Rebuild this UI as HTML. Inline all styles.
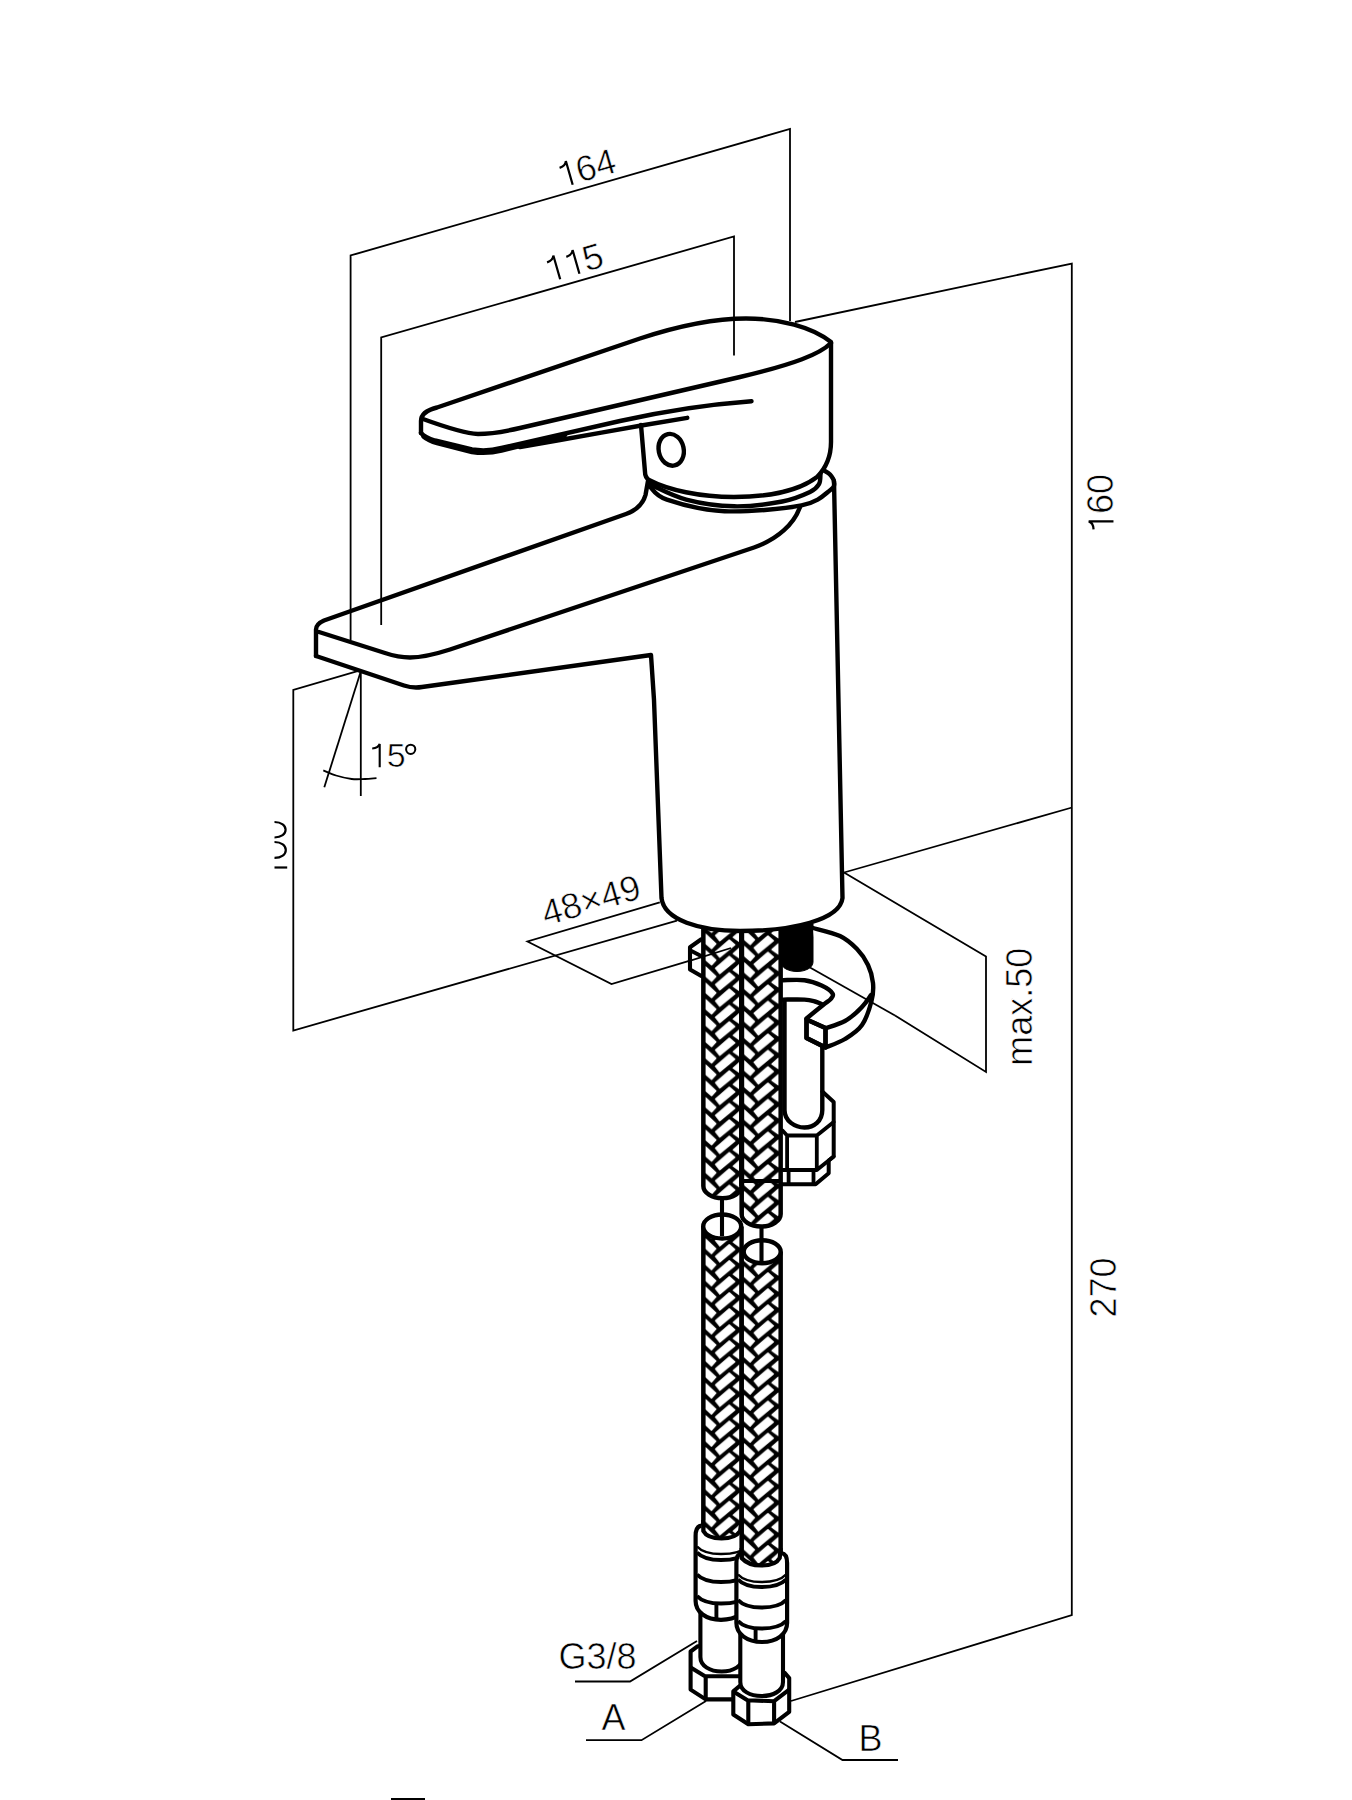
<!DOCTYPE html>
<html><head><meta charset="utf-8"><style>
html,body{margin:0;padding:0;background:#fff;width:1352px;height:1800px;overflow:hidden}
svg{display:block}
text{font-family:"Liberation Sans",sans-serif;fill:#000}
</style></head><body>
<svg width="1352" height="1800" viewBox="0 0 1352 1800">
<defs>
<pattern id="pL" patternUnits="userSpaceOnUse" x="705.2" y="934.30" width="40" height="16.050"><rect x="-1" y="-1" width="42" height="18.05" fill="#000"/><g fill="#fff" stroke="#fff" stroke-width="1.5" stroke-linejoin="round"><polygon points="0.4,-16.1 10.5,-6.6 6.4,-1.9 0.4,-7.2"/><polygon points="10.5,-14.9 24.1,-26.6 29.4,-22.0 14.6,-9.6"/><polygon points="28.3,-13.1 34.5,-18.7 34.5,-8.7"/><polygon points="0.4,0.0 10.5,9.5 6.4,14.2 0.4,8.9"/><polygon points="10.5,1.2 24.1,-10.6 29.4,-5.9 14.6,6.5"/><polygon points="28.3,3.0 34.5,-2.6 34.5,7.4"/><polygon points="0.4,16.1 10.5,25.6 6.4,30.2 0.4,25.0"/><polygon points="10.5,17.2 24.1,5.5 29.4,10.2 14.6,22.6"/><polygon points="28.3,19.1 34.5,13.5 34.5,23.5"/></g></pattern>
<pattern id="pR" patternUnits="userSpaceOnUse" x="743.8" y="930.40" width="40" height="16.050"><rect x="-1" y="-1" width="42" height="18.05" fill="#000"/><g fill="#fff" stroke="#fff" stroke-width="1.5" stroke-linejoin="round"><polygon points="0.4,-16.1 10.5,-6.6 6.4,-1.9 0.4,-7.2"/><polygon points="10.5,-14.9 24.1,-26.6 29.4,-22.0 14.6,-9.6"/><polygon points="28.3,-13.1 34.5,-18.7 34.5,-8.7"/><polygon points="0.4,0.0 10.5,9.5 6.4,14.2 0.4,8.9"/><polygon points="10.5,1.2 24.1,-10.6 29.4,-5.9 14.6,6.5"/><polygon points="28.3,3.0 34.5,-2.6 34.5,7.4"/><polygon points="0.4,16.1 10.5,25.6 6.4,30.2 0.4,25.0"/><polygon points="10.5,17.2 24.1,5.5 29.4,10.2 14.6,22.6"/><polygon points="28.3,19.1 34.5,13.5 34.5,23.5"/></g></pattern>
<pattern id="pUL" patternUnits="userSpaceOnUse" x="705.2" y="934.30" width="40" height="16.350"><rect x="-1" y="-1" width="42" height="18.35" fill="#000"/><g fill="#fff" stroke="#fff" stroke-width="1.5" stroke-linejoin="round"><polygon points="0.4,-16.4 10.5,-6.9 6.4,-2.2 0.4,-7.5"/><polygon points="10.5,-15.2 24.1,-27.0 29.4,-22.2 14.6,-9.9"/><polygon points="28.3,-13.4 34.5,-19.0 34.5,-9.0"/><polygon points="0.4,0.0 10.5,9.5 6.4,14.2 0.4,8.9"/><polygon points="10.5,1.2 24.1,-10.6 29.4,-5.9 14.6,6.5"/><polygon points="28.3,3.0 34.5,-2.6 34.5,7.4"/><polygon points="0.4,16.4 10.5,25.9 6.4,30.6 0.4,25.2"/><polygon points="10.5,17.6 24.1,5.8 29.4,10.5 14.6,22.9"/><polygon points="28.3,19.4 34.5,13.8 34.5,23.8"/></g></pattern>
<pattern id="pUR" patternUnits="userSpaceOnUse" x="743.8" y="930.25" width="40" height="16.350"><rect x="-1" y="-1" width="42" height="18.35" fill="#000"/><g fill="#fff" stroke="#fff" stroke-width="1.5" stroke-linejoin="round"><polygon points="0.4,-16.4 10.5,-6.9 6.4,-2.2 0.4,-7.5"/><polygon points="10.5,-15.2 24.1,-27.0 29.4,-22.2 14.6,-9.9"/><polygon points="28.3,-13.4 34.5,-19.0 34.5,-9.0"/><polygon points="0.4,0.0 10.5,9.5 6.4,14.2 0.4,8.9"/><polygon points="10.5,1.2 24.1,-10.6 29.4,-5.9 14.6,6.5"/><polygon points="28.3,3.0 34.5,-2.6 34.5,7.4"/><polygon points="0.4,16.4 10.5,25.9 6.4,30.6 0.4,25.2"/><polygon points="10.5,17.6 24.1,5.8 29.4,10.5 14.6,22.9"/><polygon points="28.3,19.4 34.5,13.8 34.5,23.8"/></g></pattern>
</defs>
<g fill="none" stroke="#000" stroke-width="1.8">
<polyline points="350.6,640.0 350.6,255.5 790.0,129.0 790.0,321.0"/>
<polyline points="381.2,625.0 381.2,337.5 734.0,236.5 734.0,355.5"/>
<polyline points="795.0,322.0 1071.8,263.5 1071.8,1615.0 791.0,1701.0"/>
<polyline points="844.0,872.5 1072.0,807.5"/>
<polyline points="844.0,872.5 986.0,956.5 986.0,1072.0 895.0,1015.5"/>
<polyline points="357.5,671.2 293.3,690.0 293.3,1030.5 677.0,920.7"/>
<polyline points="360.8,671.0 360.8,796.0"/>
<polyline points="360.8,671.2 324.3,787.3"/>
<polyline points="659.8,902.4 527.5,941.5 611.5,984.0 690.0,960.7"/>
<polyline points="575.0,1681.5 630.0,1681.5 697.0,1641.0"/>
<polyline points="586.0,1740.2 641.5,1740.2 706.0,1701.0"/>
<polyline points="780.0,1721.5 842.5,1760.0 898.0,1760.0"/>
<path d="M323.3,770.4 C325.4,771.2 331.3,774.1 336.0,775.5 C340.7,776.9 346.9,778.4 351.7,779.0 C356.5,779.6 360.9,779.1 365.0,779.0 C369.1,778.9 374.6,778.3 376.5,778.2"/>
</g>
<g font-size="36" stroke="#fff" stroke-width="0.6">
<g transform="translate(586.00,168.00) rotate(-16.00)"><text x="-30.03" y="12.47" font-size="36.0"> 64</text><path d="M-17.43,12.47 L-17.43,-12.29 C-18.51,-9.05 -21.75,-7.61 -25.35,-7.43" fill="none" stroke="#000" stroke-width="2.23" stroke-linejoin="miter"/></g>
<g transform="translate(573.50,262.50) rotate(-16.00)"><text x="-30.03" y="12.47" font-size="36.0">  5</text><path d="M-17.43,12.47 L-17.43,-12.29 C-18.51,-9.05 -21.75,-7.61 -25.35,-7.43" fill="none" stroke="#000" stroke-width="2.23" stroke-linejoin="miter"/><path d="M2.59,12.47 L2.59,-12.29 C1.51,-9.05 -1.73,-7.61 -5.33,-7.43" fill="none" stroke="#000" stroke-width="2.23" stroke-linejoin="miter"/></g>
<g transform="translate(1101.00,504.00) rotate(-90.00)"><text x="-30.03" y="12.47" font-size="36.0"> 60</text><path d="M-17.43,12.47 L-17.43,-12.29 C-18.51,-9.05 -21.75,-7.61 -25.35,-7.43" fill="none" stroke="#000" stroke-width="2.23" stroke-linejoin="miter"/></g>
<g transform="translate(1104.00,1287.50) rotate(-90.00)"><text x="-30.03" y="12.47" font-size="36.0">270</text></g>
<g transform="translate(1019.40,1006.70) rotate(-90.00)"><text x="-59.03" y="12.47" font-size="36.0">max.50</text></g>
<g transform="translate(591.00,900.00) rotate(-16.00)"><text x="-50.55" y="12.47" font-size="36.0">48×49</text></g>
<g transform="translate(367.80,767.30) rotate(0.00)"><text x="0.00" y="0.00" font-size="34.0"> 5</text><path d="M11.90,0.00 L11.90,-23.39 C10.88,-20.33 7.82,-18.97 4.42,-18.80" fill="none" stroke="#000" stroke-width="2.11" stroke-linejoin="miter"/></g>
<circle cx="410.7" cy="749.3" r="4.6" fill="none" stroke="#000" stroke-width="2"/>
<g transform="translate(558.50,1668.80) rotate(0.00)"><text x="0.00" y="0.00" font-size="36.0">G3/8</text></g>
<g transform="translate(601.50,1730.20) rotate(0.00)"><text x="0.00" y="0.00" font-size="36.0">A</text></g>
<g transform="translate(858.50,1751.00) rotate(0.00)"><text x="0.00" y="0.00" font-size="36.0">B</text></g>
</g>
<g fill="none" stroke="#000" stroke-width="2.2">
<path d="M274.5,867.5 L287.2,867.5"/>
<path d="M274.5,822 C281.5,822 285.6,825.5 285.6,829.8 C285.6,834 281.5,837.5 274.5,837.5"/>
<path d="M274.5,842 C281.5,842 285.8,845.5 285.8,849.9 C285.8,854.3 281.5,857.9 274.5,857.9"/>
</g>
<g stroke="#000" stroke-width="4.4" stroke-linejoin="round">
<path d="M703.3,1226.5 L703.3,1545 L741.6,1545 L741.6,1226.5 Z" fill="url(#pL)" stroke="none"/>
<path d="M703.3,1226.5 L703.3,1545 M741.6,1226.5 L741.6,1545" fill="none"/>
<ellipse cx="722.2" cy="1226.5" rx="19" ry="12" fill="#fff"/>
<line x1="722" y1="1199" x2="722" y2="1236" stroke-width="4.1"/>
<path d="M690.6,1689.6 L690.6,1651.5 L697.8,1646.2 L748,1646.2 L752,1690 L733,1699.4 L705.7,1699.4 Z" fill="#fff" stroke-width="4.1"/>
<path d="M690.7,1667.5 L705,1676.3 L745,1676.3 M705.7,1676.3 L705.7,1699.4" fill="none" stroke-width="4.1"/>
<path d="M700.4,1610 L700.4,1657 C700.4,1666 710,1671.5 721.7,1671.5 C733,1671.5 743,1666 743,1657 L743,1610 Z" fill="#fff" stroke-width="4.1"/>
<path d="M701.5,1525.6 C697.5,1526 695.6,1530 695.6,1536 L695.6,1601 C695.6,1612 706,1619.8 721,1619.8 C736,1619.8 748,1612 748,1601 L748,1536 C748,1530 746,1526 742,1525.6" fill="#fff" stroke-width="4.2"/>
<path d="M703.3,1520 L703.3,1531 C706,1536 713,1538.5 721.5,1538.5 C730,1538.5 737,1536 740.1,1531 L741.6,1520 Z" fill="url(#pL)" stroke="none"/>
<path d="M703.3,1520 L703.3,1531 C706,1536 713,1538.5 721.5,1538.5 C730,1538.5 737,1536 740.1,1531 L741.6,1520" fill="none" stroke-width="4.2"/>
<path d="M697,1546.5 C702,1552.0 712,1554.0 721,1554.0 C731,1554.0 742,1552.0 747,1546.5" fill="none" stroke-width="2.6"/>
<path d="M697,1552.5 C702,1558.0 712,1560.0 721,1560.0 C731,1560.0 742,1558.0 747,1552.5" fill="none" stroke-width="4.0"/>
<path d="M697,1574.5 C702,1580.0 712,1582.0 721,1582.0 C731,1582.0 742,1580.0 747,1574.5" fill="none" stroke-width="4.0"/>
<path d="M697,1596.0 C702,1601.5 712,1603.5 721,1603.5 C731,1603.5 742,1601.5 747,1596.0" fill="none" stroke-width="4.0"/>
<line x1="716.4" y1="1605" x2="716.4" y2="1618" stroke-width="3.9"/>
<path d="M741.6,1251.7 L741.6,1570 L780.7,1570 L780.7,1251.7 Z" fill="url(#pR)" stroke="none"/>
<path d="M741.6,1251.7 L741.6,1570 M780.7,1251.7 L780.7,1570" fill="none"/>
<ellipse cx="762.2" cy="1251.7" rx="18.5" ry="11.5" fill="#fff"/>
<line x1="761.5" y1="1226" x2="761.5" y2="1262" stroke-width="4.1"/>
<path d="M733.3,1714.5 L733.3,1691.4 L742,1684 L742,1672 L784.7,1672.8 L789.2,1678.1 L789.2,1711.8 L774.1,1723.4 L748.3,1724.3 Z" fill="#fff" stroke-width="4.1"/>
<path d="M733.3,1691.4 L747.5,1700.3 L774.1,1701.2 L789.2,1689.6 M748.3,1701 L748.3,1724.3 M774.1,1701 L774.1,1723" fill="none" stroke-width="4.1"/>
<path d="M740.3,1632 L740.3,1682 C740.3,1691 750,1696 761.6,1696 C773,1696 783,1691 783,1682 L783,1632 Z" fill="#fff" stroke-width="4.1"/>
<path d="M742,1553 C738.5,1553.5 736.4,1557 736.4,1563 L736.4,1623 C736.4,1634 747,1642 762,1642 C777,1642 787.1,1634 787.1,1623 L787.1,1563 C787.1,1557 785,1553.5 781.5,1553" fill="#fff" stroke-width="4.2"/>
<path d="M741.6,1548 L741.6,1558 C746,1563 753,1565.5 761.5,1565.5 C770,1565.5 777,1563 779.7,1558 L780.7,1548 Z" fill="url(#pR)" stroke="none"/>
<path d="M741.6,1548 L741.6,1558 C746,1563 753,1565.5 761.5,1565.5 C770,1565.5 777,1563 779.7,1558 L780.7,1548" fill="none" stroke-width="4.2"/>
<path d="M738,1574.5 C743,1580.0 752,1582.0 761.5,1582.0 C771,1582.0 781,1580.0 786,1574.5" fill="none" stroke-width="2.6"/>
<path d="M738,1579.5 C743,1585.0 752,1587.0 761.5,1587.0 C771,1587.0 781,1585.0 786,1579.5" fill="none" stroke-width="4.0"/>
<path d="M738,1600.0 C743,1605.5 752,1607.5 761.5,1607.5 C771,1607.5 781,1605.5 786,1600.0" fill="none" stroke-width="4.0"/>
<path d="M738,1621.0 C743,1626.5 752,1628.5 761.5,1628.5 C771,1628.5 781,1626.5 786,1621.0" fill="none" stroke-width="4.0"/>
<line x1="755.6" y1="1630" x2="755.6" y2="1642" stroke-width="3.9"/>
<path d="M703.3,922 L703.3,1186 A19,12 0 0 0 741.6,1186 L741.6,922 Z" fill="url(#pUL)" stroke="none"/>
<path d="M703.3,922 L703.3,1186 A19,12 0 0 0 741.6,1186 L741.6,922" fill="none"/>
<path d="M741.6,922 L741.6,1214 A19.5,12.5 0 0 0 780.7,1214 L780.7,922 Z" fill="url(#pUR)" stroke="none"/>
<path d="M741.6,922 L741.6,1214 A19.5,12.5 0 0 0 780.7,1214 L780.7,922" fill="none"/>
<line x1="743" y1="1181" x2="781" y2="1181" stroke-width="3.9"/>
<line x1="741.6" y1="922" x2="741.6" y2="1186" stroke-width="5.2"/>
</g>
<g fill="none" stroke="#000" stroke-width="4.4" stroke-linejoin="round" stroke-linecap="round">
<path d="M701.3,939.3 L690,947.2 L690,969.4 L701.3,976" stroke-width="4.1"/>
<path d="M691.5,951 L703,957" stroke-width="3.9"/>
<path d="M781,924 L781,962 C781,968 789,971.5 797,971.5 C805,971.5 813,968 813,962 L813,924 Z" fill="#000" stroke-width="1"/>
<path d="M813.0,928.0 C817.5,929.3 832.7,932.5 840.0,936.0 C847.3,939.5 852.3,944.2 857.0,949.0 C861.7,953.8 865.3,959.3 868.0,965.0 C870.7,970.7 872.4,977.0 873.0,983.0 C873.6,989.0 873.3,994.0 871.5,1001.0 C869.7,1008.0 866.4,1018.7 862.0,1025.0 C857.6,1031.3 851.1,1035.2 845.0,1039.0 C838.9,1042.8 828.8,1046.1 825.5,1047.5 L825.5,1028 L806.5,1019.5 L806.5,1038 L825.5,1047.5" fill="#fff"/>
<path d="M871.0,995.0 C870.2,996.1 868.7,998.8 866.5,1001.5 C864.3,1004.2 861.6,1007.8 858.0,1011.0 C854.4,1014.2 850.4,1018.1 845.0,1021.0 C839.6,1023.9 828.8,1027.1 825.5,1028.3"/>
<path d="M783.0,980.2 C786.6,980.2 798.1,979.3 804.5,980.2 C810.9,981.1 816.9,983.4 821.6,985.6 C826.3,987.8 831.0,991.2 832.5,993.4 C834.0,995.6 832.5,996.9 830.9,998.8 C829.3,1000.7 827.2,1001.7 823.1,1005.0 C819.0,1008.3 809.3,1016.2 806.5,1018.5"/>
<path d="M783.0,999.6 C786.6,999.6 799.2,999.3 804.5,999.6 C809.8,999.9 812.0,1000.7 815.0,1001.5 C818.0,1002.3 821.2,1004.0 822.5,1004.5"/>
<path d="M806.5,1019.5 L825.5,1028 L825.5,1047.5 L806.5,1038 Z"/>
<path d="M784.5,1001 L784.5,1110 C784.5,1121 795,1127.5 804.5,1127.5 C814,1127.5 822.3,1121 822.3,1110 L822.3,1046"/>
<path d="M822.3,1091.5 L833.7,1101.9 L833.7,1156.5 L828.7,1160.5 L828.7,1173.3 L815.6,1184.2 L782,1184.2" stroke-width="4"/>
<path d="M782.5,1130.4 L787.1,1135.5 L816.8,1135.5 L833.7,1122 M787.1,1135.5 L787.1,1170 M816.8,1135.5 L816.8,1170 M783,1170 L816.8,1170 L833.7,1156.5 M788.6,1170 L788.6,1184.2 M813.5,1170 L813.5,1184.2" stroke-width="3.8"/>
</g>
<g fill="none" stroke="#000" stroke-width="1.8"><polyline points="895,1015.5 810,967.5"/><polyline points="688,961.3 731,948"/></g>
<g fill="none" stroke="#000" stroke-width="4.4" stroke-linejoin="round" stroke-linecap="round">
<path d="M316,656 L404,685.5 C410,687.5 416,688 422,687 L651,655 L654,700 L661.5,898 C664,920 700,931 740,931 C792,931 840,920 842.5,898 L834,481" fill="#fff"/>
<path d="M316,656 L316,629.5 C316,625.5 318.5,623 324,620.5 L626,514 C637,510 643,504 645.5,495 L648,481"/>
<path d="M319,632 L385,653 C394,656 402,657.5 410,657.5 C422,657.5 436,654 450,649.5 L754,547.5 C778,539 794,524 800,507"/>
<path d="M824.0,470.5 C825.0,471.2 828.3,472.6 830.0,474.5 C831.7,476.4 833.9,479.4 834.0,482.0 C834.1,484.6 835.8,486.1 830.4,490.0 C825.0,493.9 819.1,501.9 801.5,505.4 C783.9,508.9 747.0,512.2 724.6,511.2 C702.2,510.2 679.4,503.8 666.9,499.6 C654.4,495.4 652.5,488.4 649.6,486.2"/>
<path d="M649.6,484.2 C655.7,486.8 672.1,495.9 686.2,499.6 C700.3,503.3 718.2,506.0 734.2,506.3 C750.2,506.6 769.7,503.9 782.3,501.5 C794.9,499.1 803.9,494.9 810.0,492.0 C816.1,489.1 817.2,487.0 819.0,484.0 C820.8,481.0 820.2,475.7 820.5,474.0"/>
<path d="M421,433 L421,421 C421,414 427,410 437,407.5 L640,338.5 C675,327 710,318.5 746,318.5 C780,318.5 812,327 831,342 L831,442 C831,458 826,468 817,477 C800,490 770,497 734,497 C700,497 668,490 649,480 C646,478 645,476 645,472 L641,425"/>
<path d="M831,343 C820,354 795,364 740,377 L520,428 C505,431.5 490,434 478,434 C465,433.5 445,427 423,419"/>
<path d="M421,433 C424,436.5 428,438.5 435,440.5 L472,449.5 C482,451 492,450.5 501.5,448 L620,421 C660,412 700,405 751.5,401.2"/>
<path d="M423.5,436.5 C427,439.5 431,441.5 437,443 L472,452 C482,453.5 492,453 501.5,450.5 L565,435" stroke-width="4.5"/>
<path d="M520.0,447.0 C526.7,445.8 539.8,443.6 560.0,440.0 C580.2,436.4 620.2,429.2 641.4,425.5 C662.6,421.8 679.6,419.1 687.3,417.8"/>
<ellipse cx="671.2" cy="449.8" rx="12.5" ry="16" transform="rotate(-12 671.2 449.8)"/>
</g>
<rect x="391" y="1798" width="34" height="2" fill="#000"/>
</svg>
</body></html>
